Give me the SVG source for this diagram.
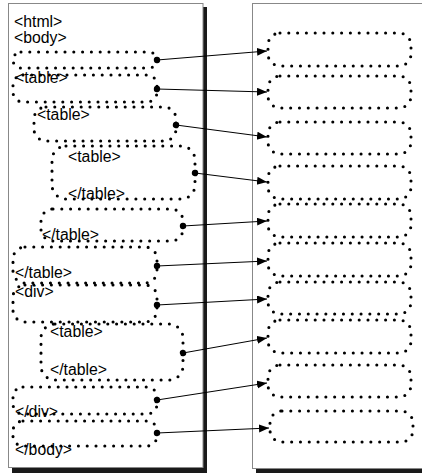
<svg xmlns="http://www.w3.org/2000/svg" width="422" height="473" viewBox="0 0 422 473">
<defs>
<style>
.frame{fill:#fff;stroke:#888;stroke-width:1}
.shadow{fill:#1a1a1a}
.dots{fill:none;stroke:#000;stroke-width:3.1;stroke-linecap:round;stroke-dasharray:0 8.8}
.lbl{font-family:"Liberation Sans",Arial,sans-serif;font-size:15.8px;fill:#000}
.conn{stroke:#000;stroke-width:1;fill:none;marker-start:url(#dot);marker-end:url(#arr)}
</style>
<marker id="arr" markerUnits="userSpaceOnUse" markerWidth="11" markerHeight="9" refX="10" refY="4" orient="auto">
<path d="M0,0 L10,4 L0,8 z" fill="#000"/>
</marker>
<marker id="dot" markerUnits="userSpaceOnUse" markerWidth="8" markerHeight="8" refX="4" refY="4" orient="auto">
<circle cx="4" cy="4" r="3.2" fill="#000"/>
</marker>
</defs>

<g id="leftFrame">
<rect class="shadow" x="203" y="7" width="4" height="466"/>
<rect class="shadow" x="12" y="468" width="195" height="5"/>
<rect class="frame" x="8.5" y="3.5" width="194.5" height="464"/>
</g>
<g id="rightFrame">
<rect class="shadow" x="256" y="469" width="170" height="4"/>
<rect class="frame" x="252.5" y="3.5" width="175" height="465"/>
</g>

<g id="docText">
<text class="lbl" x="14" y="27">&lt;html&gt;</text>
<text class="lbl" x="14" y="43">&lt;body&gt;</text>
</g>

<g id="L1"><rect class="dots" x="13" y="52" width="144" height="16" rx="8"/></g>
<g id="L2"><rect class="dots" x="13" y="75" width="144" height="27" rx="10"/><text class="lbl" x="15" y="83">&lt;table&gt;</text></g>
<g id="L3"><rect class="dots" x="34" y="107" width="142" height="34" rx="12"/><text class="lbl" x="37" y="120">&lt;table&gt;</text></g>
<g id="L4"><rect class="dots" x="52" y="146" width="143" height="53" rx="14"/><text class="lbl" x="68" y="162">&lt;table&gt;</text><text class="lbl" x="68" y="199">&lt;/table&gt;</text></g>
<g id="L5"><rect class="dots" x="41" y="209" width="142" height="32" rx="12"/><text class="lbl" x="42" y="240">&lt;/table&gt;</text></g>
<g id="L6"><rect class="dots" x="13" y="247" width="144" height="36" rx="12"/><text class="lbl" x="15" y="278">&lt;/table&gt;</text></g>
<g id="L7"><rect class="dots" x="13" y="285" width="144" height="37" rx="12"/><text class="lbl" x="15" y="297">&lt;div&gt;</text></g>
<g id="L8"><rect class="dots" x="41" y="324" width="142" height="56" rx="14"/><text class="lbl" x="50" y="337">&lt;table&gt;</text><text class="lbl" x="50" y="375">&lt;/table&gt;</text></g>
<g id="L9"><rect class="dots" x="13" y="387" width="144" height="27" rx="10"/><text class="lbl" x="15" y="417">&lt;/div&gt;</text></g>
<g id="L10"><rect class="dots" x="13" y="421" width="144" height="25" rx="10"/><text class="lbl" x="15" y="455">&lt;/body&gt;</text></g>

<g id="R1"><rect class="dots" x="268" y="33" width="143" height="33" rx="12"/></g>
<g id="R2"><rect class="dots" x="268" y="76" width="143" height="32" rx="12"/></g>
<g id="R3"><rect class="dots" x="268" y="122" width="143" height="32" rx="12"/></g>
<g id="R4"><rect class="dots" x="268" y="166" width="143" height="33" rx="12"/></g>
<g id="R5"><rect class="dots" x="268" y="204" width="143" height="33" rx="12"/></g>
<g id="R6"><rect class="dots" x="268" y="243" width="143" height="33" rx="12"/></g>
<g id="R7"><rect class="dots" x="268" y="282" width="143" height="32" rx="12"/></g>
<g id="R8"><rect class="dots" x="268" y="320" width="143" height="33" rx="12"/></g>
<g id="R9"><rect class="dots" x="268" y="365" width="143" height="32" rx="12"/></g>
<g id="R10"><rect class="dots" x="270" y="411" width="143" height="31" rx="12"/></g>

<g id="connectors">
<line class="conn" x1="157" y1="60" x2="267" y2="51"/>
<line class="conn" x1="157" y1="89" x2="267" y2="92"/>
<line class="conn" x1="176" y1="125" x2="267" y2="137"/>
<line class="conn" x1="195" y1="173" x2="267" y2="182"/>
<line class="conn" x1="183" y1="226" x2="267" y2="221"/>
<line class="conn" x1="157" y1="266" x2="267" y2="261"/>
<line class="conn" x1="157" y1="305" x2="267" y2="299"/>
<line class="conn" x1="183" y1="353" x2="267" y2="338"/>
<line class="conn" x1="157" y1="400" x2="267" y2="383"/>
<line class="conn" x1="157" y1="433" x2="269" y2="428"/>
</g>
</svg>
